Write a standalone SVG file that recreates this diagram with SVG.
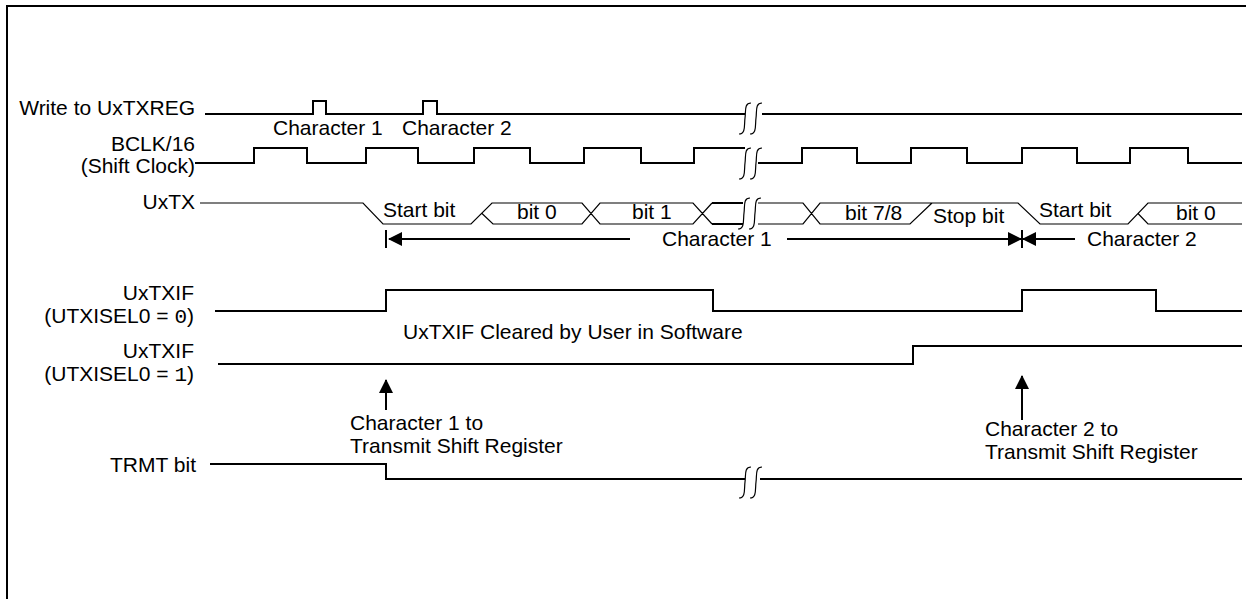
<svg xmlns="http://www.w3.org/2000/svg" width="1246" height="599" viewBox="0 0 1246 599">
<style>
text{font-family:"Liberation Sans",Arial,sans-serif;font-size:21px;fill:#000}
.lbl{text-anchor:end}
.mono{font-family:"Liberation Mono","Courier New",monospace}
.sig{fill:none;stroke:#000;stroke-width:2}
.thin{fill:none;stroke:#000;stroke-width:1.2}
.brk{fill:none;stroke:#000;stroke-width:1.2}
</style>
<defs>
<g id="break"><path class="brk" d="M10,0 C3,0 5,8 4,15 C3,22 5,31 -2,31"/><path class="brk" d="M21,0 C14,0 16,8 15,15 C14,22 16,31 9,31"/></g>
<marker id="ah" viewBox="0 0 14 14" refX="13" refY="7" markerWidth="14" markerHeight="14" markerUnits="userSpaceOnUse" orient="auto"><path d="M0,0 L14,7 L0,14 Z" fill="#000"/></marker>
</defs>
<rect width="1246" height="599" fill="#fff"/>
<path d="M7,599 V6 H1246" fill="none" stroke="#000" stroke-width="2"/>

<g id="write">
<text class="lbl" x="195" y="115">Write to UxTXREG</text>
<path class="sig" d="M205,114 H313 V101 H326 V114 H423 V101 H437 V114 H745 M762,114 H1242"/>
<text x="273" y="135">Character 1</text>
<text x="402" y="135">Character 2</text>
<use href="#break" x="741" y="103"/>
</g>

<g id="bclk">
<text class="lbl" x="195" y="151">BCLK/16</text>
<text class="lbl" x="195" y="173">(Shift Clock)</text>
<path class="sig" d="M195,163 H254 V148 H307 V163 H366 V148 H418 V163 H474 V148 H530 V163 H584 V148 H641 V163 H694 V148 H745 M758,163 H802 V148 H857 V163 H911 V148 H967 V163 H1022 V148 H1077 V163 H1130 V148 H1188 V163 H1242"/>
<use href="#break" x="741" y="148"/>
</g>

<g id="uxtx">
<text class="lbl" x="195" y="209">UxTX</text>
<path class="thin" d="M200,203 H363 L383,224 H471 L492,203 H582 L600,224 H693 L712,203 M482,213.5 L493,224 H582 L600,203 H693 L712,224"/>
<path class="sig" d="M712,203 H743 M712,224 H743"/>
<path class="thin" d="M758,203 H803 L820,224 H910 L932,203 M758,224 H803 L820,203 H1018 L1040,224 H1128 L1148,203 H1242 M1138,213.5 L1148,224 H1242"/>
<use href="#break" x="740" y="198"/>
<text x="383" y="217">Start bit</text>
<text x="517" y="219">bit 0</text>
<text x="632" y="219">bit 1</text>
<text x="845" y="220">bit 7/8</text>
<text x="933" y="223">Stop bit</text>
<text x="1039" y="217">Start bit</text>
<text x="1176" y="220">bit 0</text>
</g>

<g id="uxtxif0">
<text class="lbl" x="194" y="300">UxTXIF</text>
<text class="lbl" x="194" y="323">(UTXISEL0 = <tspan class="mono">0</tspan>)</text>
<path class="sig" d="M215,311 H386 V290 H713 V311 H1022 V290 H1156 V311 H1242"/>
<text x="403" y="339">UxTXIF Cleared by User in Software</text>
</g>

<g id="uxtxif1">
<text class="lbl" x="194" y="358">UxTXIF</text>
<text class="lbl" x="194" y="381">(UTXISEL0 = <tspan class="mono">1</tspan>)</text>
<path class="sig" d="M218,364 H913 V346 H1242"/>
</g>

<g id="trmt">
<text class="lbl" x="196" y="472">TRMT bit</text>
<path class="sig" d="M210,464 H386 V479 H745 M760,479 H1242"/>
<use href="#break" x="741" y="467"/>
</g>

<g id="note1">
<text x="350" y="430">Character 1 to</text>
<text x="350" y="453">Transmit Shift Register</text>
</g>
<g id="note2">
<text x="985" y="436">Character 2 to</text>
<text x="985" y="459">Transmit Shift Register</text>
</g>

<g id="connectors">
<path class="sig" d="M386,410 V380" marker-end="url(#ah)"/>
<path class="sig" d="M1022,420 V376" marker-end="url(#ah)"/>
<path class="sig" d="M386,230 V248 M1022,230 V248"/>
<path class="sig" d="M630,239 H389" marker-end="url(#ah)"/>
<path class="sig" d="M787,239 H1021" marker-end="url(#ah)"/>
<path class="sig" d="M1075,239 H1023" marker-end="url(#ah)"/>
<text x="662" y="246">Character 1</text>
<text x="1087" y="246">Character 2</text>
</g>
</svg>
